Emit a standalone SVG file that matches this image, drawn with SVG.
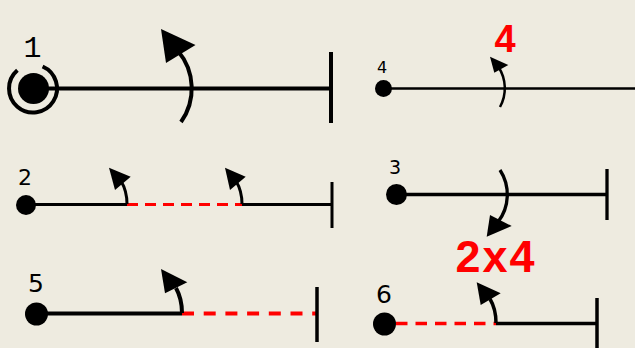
<svg xmlns="http://www.w3.org/2000/svg" width="635" height="348" viewBox="0 0 635 348">
<style>
.ln{stroke:#000;fill:none;stroke-linecap:butt}
.dash{stroke:#ff0000;fill:none}
.head{fill:#000;stroke:none}
.dot{fill:#000}
.num{font-family:"DejaVu Sans",sans-serif;fill:#000;text-anchor:middle}
.red{font-family:"Liberation Sans",Arial,sans-serif;font-weight:bold;fill:#ff0000;text-anchor:middle}
</style>
<rect width="635" height="348" fill="#EEEBE0"/>
<g id="connectors">
  <!-- panel 1 -->
  <line class="ln" x1="33" y1="88.5" x2="331" y2="88.5" stroke-width="4"/>
  <line class="ln" x1="331" y1="52" x2="331" y2="123" stroke-width="4"/>
  <path class="ln" d="M181,122 A58,58 0 0 0 178,51" stroke-width="4"/>
  <polygon class="head" points="161,29 195.5,45 166,63"/>
  <!-- panel 4 -->
  <line class="ln" x1="383" y1="88.5" x2="635" y2="88.5" stroke-width="2.5"/>
  <path class="ln" d="M500,107 A39,39 0 0 0 498.5,67" stroke-width="2.5"/>
  <polygon class="head" points="490,56.7 508.3,65 494.3,72.7"/>
  <!-- panel 2 -->
  <line class="ln" x1="26" y1="204.5" x2="127" y2="204.5" stroke-width="3"/>
  <line class="dash" x1="127" y1="204.5" x2="242" y2="204.5" stroke-width="3" stroke-dasharray="11 7"/>
  <line class="ln" x1="242" y1="204.5" x2="332" y2="204.5" stroke-width="3"/>
  <line class="ln" x1="332" y1="182" x2="332" y2="228" stroke-width="3"/>
  <path class="ln" d="M127,204 Q127,191 121,181" stroke-width="3"/>
  <polygon class="head" points="109,167.7 130.7,176.7 115,190"/>
  <path class="ln" d="M242,204 Q242,191 236,181" stroke-width="3"/>
  <polygon class="head" points="225,167.7 245.7,176.7 230,190"/>
  <!-- panel 3 -->
  <line class="ln" x1="396.5" y1="194.5" x2="607" y2="194.5" stroke-width="3.3"/>
  <line class="ln" x1="607" y1="169" x2="607" y2="220" stroke-width="3.3"/>
  <path class="ln" d="M500,170 A45,45 0 0 1 498,222" stroke-width="3.3"/>
  <polygon class="head" points="486.7,236.7 490,215 511.7,226"/>
  <!-- panel 5 -->
  <line class="ln" x1="37" y1="313.5" x2="182" y2="313.5" stroke-width="4"/>
  <line class="dash" x1="182" y1="313.5" x2="317" y2="313.5" stroke-width="4" stroke-dasharray="12 9.7"/>
  <line class="ln" x1="317" y1="287" x2="317" y2="342" stroke-width="3.5"/>
  <path class="ln" d="M182,313 Q182,299 176,288" stroke-width="4"/>
  <polygon class="head" points="161,269 187.3,282.3 165,293.3"/>
  <!-- panel 6 -->
  <line class="dash" x1="396" y1="323.5" x2="496" y2="323.5" stroke-width="3.5" stroke-dasharray="11.5 8"/>
  <line class="ln" x1="496" y1="323.5" x2="597" y2="323.5" stroke-width="3.5"/>
  <line class="ln" x1="597" y1="298" x2="597" y2="348" stroke-width="3.5"/>
  <path class="ln" d="M496,323 Q496,309 490,299" stroke-width="3.5"/>
  <polygon class="head" points="476.7,282.3 500.7,293.3 480.7,305"/>
</g>
<g id="node1">
  <circle class="dot" cx="33.5" cy="88.5" r="15.5"/>
  <path class="ln" d="M42.6,66.5 A24,24 0 1 1 17.4,70.3" stroke-width="4"/>
  <text x="32.5" y="57" font-family="'Liberation Mono','DejaVu Sans Mono',monospace" font-size="30" text-anchor="middle" fill="#000">1</text>
</g>
<g id="node4">
  <circle class="dot" cx="383.5" cy="88.5" r="8.5"/>
  <text class="num" x="382" y="73" font-size="16">4</text>
  <text class="red" x="505" y="52" font-size="38">4</text>
</g>
<g id="node2">
  <circle class="dot" cx="26" cy="205" r="10"/>
  <text class="num" x="25" y="185" font-size="22">2</text>
</g>
<g id="node3">
  <circle class="dot" cx="396.5" cy="194.5" r="10.5"/>
  <text class="num" x="395" y="174" font-size="19">3</text>
  <text class="red" x="496" y="271.5" font-size="45" letter-spacing="2">2x4</text>
</g>
<g id="node5">
  <circle class="dot" cx="36.5" cy="314" r="11.5"/>
  <text class="num" x="36" y="292" font-size="25">5</text>
</g>
<g id="node6">
  <circle class="dot" cx="384.5" cy="324" r="11.5"/>
  <text class="num" x="384" y="303" font-size="25">6</text>
</g>
</svg>
